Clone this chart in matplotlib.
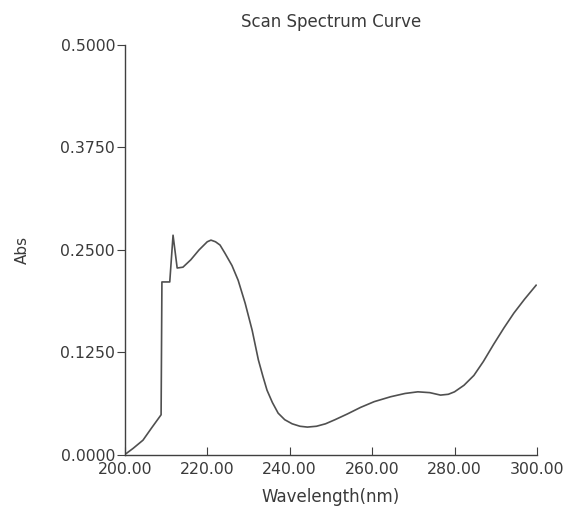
import matplotlib.pyplot as plt

# wavelength (nm) and absorbance
wavelength = [200.4, 202.0, 204.4, 206.5, 208.8, 209.0, 210.9, 211.7, 212.7,
              214.1, 216.0, 218.0, 220.0, 220.9, 222.0, 223.1, 224.3, 226.0,
              227.5, 229.2, 230.9, 232.4, 233.5, 234.5, 235.8, 237.2, 238.8,
              240.6, 242.5, 244.3, 246.5, 248.7, 251.0, 254.0, 257.2, 260.5,
              264.5, 268.0, 271.1, 274.0, 276.6, 278.5, 280.0, 282.3, 284.7,
              287.0, 289.5, 292.0, 294.4, 297.0, 299.8]
absorb = [0.002, 0.008, 0.018, 0.033, 0.049, 0.211, 0.211, 0.268, 0.228,
          0.229, 0.238, 0.250, 0.260, 0.262, 0.260, 0.256, 0.246, 0.231,
          0.213, 0.185, 0.152, 0.116, 0.096, 0.079, 0.064, 0.051, 0.043,
          0.038, 0.035, 0.034, 0.035, 0.038, 0.043, 0.050, 0.058, 0.065,
          0.071, 0.075, 0.077, 0.076, 0.073, 0.074, 0.077, 0.085, 0.097,
          0.114, 0.135, 0.155, 0.173, 0.190, 0.207]

xticks = [200, 220, 240, 260, 280, 300]
yticks = [0.0, 0.125, 0.25, 0.375, 0.5]

txt = '#3a3a3a'
fig = plt.figure(figsize=(5.7, 5.17), dpi=100)
ax = fig.add_axes([0.219, 0.12, 0.723, 0.793])
ax.plot(wavelength, absorb, color='#505050', lw=1.2)

ax.set_xlim(200, 300)
ax.set_ylim(0, 0.5)
ax.set_xticks(xticks)
ax.set_xticklabels(['%.2f' % v for v in xticks])
ax.set_yticks(yticks)
ax.set_yticklabels(['%.4f' % v for v in yticks])
ax.spines['top'].set_visible(False)
ax.spines['right'].set_visible(False)
for s in ['left', 'bottom']:
    ax.spines[s].set_color('#404040')
    ax.spines[s].set_linewidth(1.0)
ax.tick_params(axis='x', direction='in', length=6, labelsize=11.3,
               colors='#404040', labelcolor=txt, pad=5)
ax.tick_params(axis='y', direction='out', length=6, labelsize=11.3,
               colors='#404040', labelcolor=txt, pad=1)

ax.set_title('Scan Spectrum Curve', fontsize=12, color=txt, pad=13)
ax.set_xlabel('Wavelength(nm)', fontsize=12, color=txt, labelpad=8)
ax.set_ylabel('Abs', fontsize=11, color=txt, labelpad=22)

fig.savefig('out.png', dpi=100)
